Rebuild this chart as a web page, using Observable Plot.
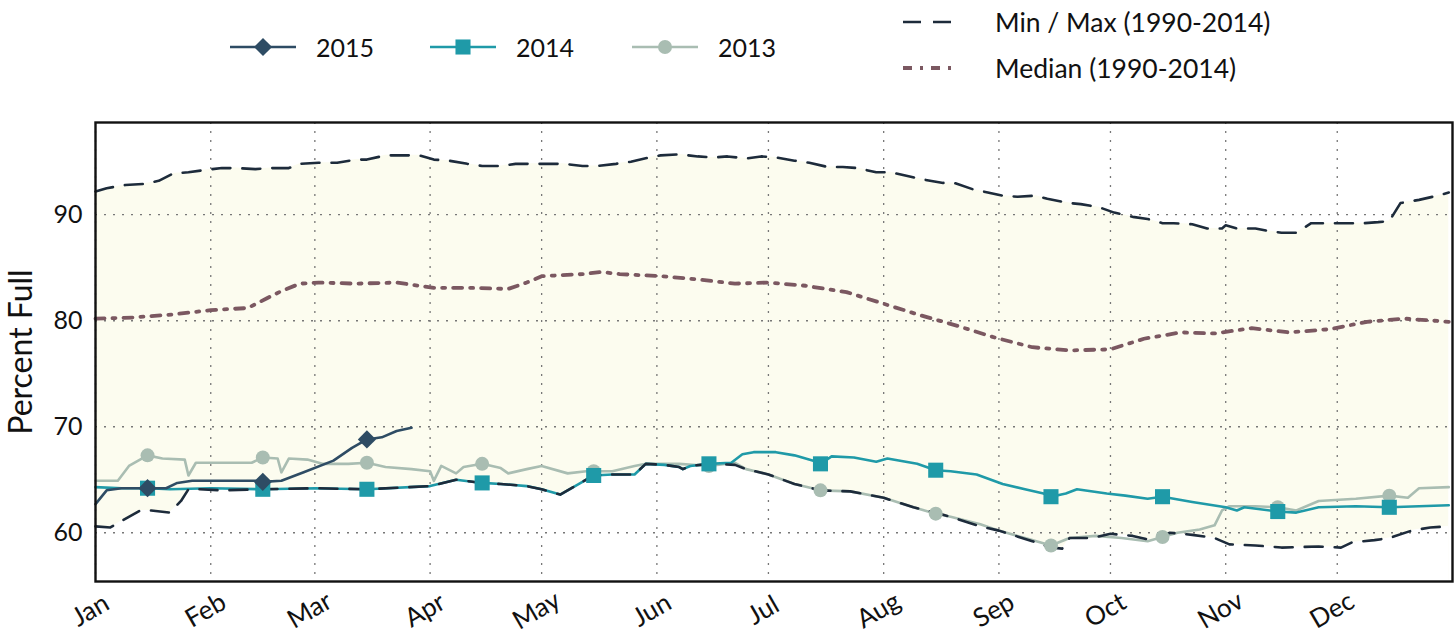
<!DOCTYPE html>
<html><head><meta charset="utf-8">
<script src="https://cdn.jsdelivr.net/npm/d3@7"></script>
<script src="https://cdn.jsdelivr.net/npm/@observablehq/plot@0.6"></script>
<style>
body{margin:0;background:#fff;font-family:Lato,"Open Sans",sans-serif;}
#wrap{position:relative;width:1455px;height:637px;overflow:hidden;}
#legend{position:absolute;left:0;top:0;width:1455px;height:100px;}
#chart{position:absolute;left:0;top:100px;}
.item{position:absolute;display:flex;align-items:center;font-size:25px;color:#111;height:40px;}
.item svg{margin-right:20px;overflow:visible;}
#chart svg [aria-label="y-axis label"] text{font-size:32px;}
</style></head>
<body>
<div id="wrap"><div id="legend"></div><div id="chart"></div></div>
<script>
// ---- data ----
const months = ["Jan","Feb","Mar","Apr","May","Jun","Jul","Aug","Sep","Oct","Nov","Dec"];
const yTicks = [60, 70, 80, 90];

const maxSeries = [["01-01",92.2],["01-04",92.5],["01-09",92.8],["01-14",92.9],["01-18",93.2],["01-22",93.9],["01-26",94.0],["01-30",94.2],
["02-04",94.4],["02-08",94.4],["02-13",94.3],["02-17",94.4],["02-22",94.4],["02-25",94.8],["03-02",94.9],["03-07",94.9],["03-12",95.2],
["03-15",95.2],["03-20",95.6],["03-25",95.6],["03-29",95.6],["04-02",95.2],["04-06",95.1],["04-11",94.8],["04-15",94.6],["04-20",94.6],
["04-24",94.8],["04-27",94.8],["05-03",94.8],["05-07",94.8],["05-12",94.6],["05-16",94.6],["05-21",94.8],["05-25",95.0],["05-30",95.4],
["06-02",95.6],["06-07",95.7],["06-12",95.5],["06-16",95.4],["06-20",95.5],["06-25",95.3],["06-29",95.5],["07-03",95.4],["07-08",95.1],
["07-12",94.9],["07-17",94.5],["07-21",94.5],["07-25",94.4],["07-30",94.0],["08-03",94.0],["08-08",93.6],["08-12",93.3],["08-17",93.0],
["08-20",93.0],["08-25",92.4],["08-29",92.1],["09-02",91.8],["09-06",91.7],["09-11",91.8],["09-14",91.5],["09-20",91.1],["09-23",91.0],
["09-28",90.7],["10-02",90.2],["10-07",89.8],["10-11",89.6],["10-15",89.2],["10-18",89.2],["10-23",89.1],["10-27",88.7],["10-31",88.7],
["11-01",89.0],["11-04",88.7],["11-09",88.7],["11-12",88.5],["11-16",88.3],["11-20",88.3],["11-24",89.2],["11-29",89.2],["12-04",89.2],
["12-08",89.2],["12-12",89.3],["12-15",89.4],["12-18",91.1],["12-23",91.4],["12-28",91.8],["12-31",92.1]];

const medianSeries = [["01-01",80.2],["01-11",80.3],["01-22",80.6],["02-01",81.0],["02-11",81.2],["02-16",82.1],["02-20",82.8],["02-25",83.5],
["03-02",83.6],["03-12",83.5],["03-23",83.6],["04-02",83.1],["04-12",83.1],["04-22",83.0],["04-27",83.6],["05-01",84.2],["05-12",84.4],
["05-17",84.6],["05-22",84.4],["06-02",84.2],["06-12",83.9],["06-22",83.5],["07-01",83.6],["07-11",83.3],["07-22",82.7],["08-01",81.6],
["08-11",80.5],["08-21",79.5],["08-31",78.4],["09-10",77.5],["09-20",77.2],["10-01",77.3],["10-10",78.3],["10-20",78.9],["10-29",78.8],
["11-08",79.3],["11-18",78.9],["11-29",79.2],["12-09",79.9],["12-19",80.2],["12-31",79.9]];

const minSeries = [["01-01",60.6],["01-05",60.5],["01-08",61.1],["01-13",62.1],["01-16",62.1],["01-21",61.9],["01-24",63.0],["01-26",64.1],
["01-29",64.1],["02-04",64.0],["02-15",64.1],["03-01",64.2],["03-15",64.1],["04-01",64.4],["04-08",65.0],["04-15",64.7],["04-20",64.6],
["04-27",64.4],["05-01",64.1],["05-06",63.6],["05-10",64.4],["05-15",65.4],["05-20",65.5],["05-26",65.5],["05-29",66.5],["06-03",66.4],
["06-07",66.2],["06-08",66.0],["06-10",66.3],["06-15",66.5],["06-22",66.4],["06-25",66.0],["07-01",65.5],["07-08",64.6],["07-15",64.0],
["07-23",63.9],["08-01",63.3],["08-09",62.4],["08-15",61.9],["08-19",61.5],["08-27",60.6],["09-01",60.2],["09-10",59.2],["09-15",58.6],
["09-18",58.5],["09-20",59.5],["09-26",59.5],["10-01",59.9],["10-07",59.7],["10-12",59.3],["10-17",60.0],["10-23",59.8],["10-29",59.5],
["11-02",58.9],["11-09",58.8],["11-16",58.6],["11-26",58.7],["12-02",58.6],["12-05",59.1],["12-11",59.3],["12-15",59.5],["12-21",60.2],
["12-26",60.5],["12-31",60.6]];

const series2015 = [["01-01",62.7],["01-04",64.0],["01-08",64.2],["01-15",64.2],["01-20",64.2],["01-23",64.7],["01-27",64.9],["02-13",64.9],
["02-15",64.8],["02-20",64.9],["02-26",65.7],["03-06",66.8],["03-11",68.0],["03-15",68.8],["03-19",69.0],["03-23",69.6],["03-27",69.9]];

const series2014 = [["01-01",64.3],["01-08",64.2],["01-15",64.2],["01-21",64.1],["02-01",64.2],["02-15",64.1],["03-01",64.2],["03-15",64.1],
["04-01",64.4],["04-08",65.0],["04-15",64.7],["04-20",64.6],["04-27",64.4],["05-01",64.1],["05-06",63.6],["05-10",64.4],["05-15",65.4],
["05-20",65.5],["05-26",65.5],["05-29",66.5],["06-03",66.4],["06-07",66.2],["06-08",66.0],["06-10",66.3],["06-15",66.5],["06-21",66.6],
["06-24",67.4],["06-27",67.6],["07-03",67.6],["07-08",67.3],["07-14",66.7],["07-15",66.5],["07-18",67.2],["07-24",67.1],["07-30",66.7],
["08-02",67.0],["08-10",66.5],["08-15",65.9],["08-19",65.8],["08-26",65.5],["09-02",64.6],["09-08",64.1],["09-13",63.7],["09-15",63.4],
["09-19",63.7],["09-22",64.1],["09-30",63.7],["10-05",63.5],["10-11",63.2],["10-15",63.4],["10-23",62.9],["11-01",62.4],["11-04",62.1],
["11-06",62.4],["11-15",62.0],["11-20",61.9],["11-26",62.4],["12-06",62.5],["12-15",62.4],["12-31",62.6]];

const series2013 = [["01-01",64.9],["01-07",64.9],["01-10",66.3],["01-15",67.3],["01-19",67.0],["01-25",66.9],["01-26",65.4],["01-28",66.6],
["02-05",66.6],["02-12",66.6],["02-15",67.1],["02-19",67.0],["02-20",65.7],["02-22",67.0],["02-27",66.9],["03-03",66.5],["03-10",66.5],
["03-15",66.6],["03-20",66.2],["03-27",66.0],["04-01",65.8],["04-02",64.9],["04-04",66.3],["04-08",65.6],["04-10",66.2],["04-15",66.5],
["04-20",66.1],["04-22",65.6],["04-27",66.0],["05-01",66.3],["05-08",65.6],["05-13",65.8],["05-15",65.8],["05-20",65.8],["05-26",66.3],
["05-29",66.5],["06-07",66.5],["06-15",66.3],["06-22",66.6],["06-25",66.0],["07-01",65.5],["07-08",64.6],["07-15",64.0],["07-23",63.9],
["08-01",63.3],["08-09",62.4],["08-15",61.8],["08-19",61.5],["08-27",60.8],["09-01",60.2],["09-09",59.4],["09-15",58.8],["09-20",59.5],
["09-27",59.7],["10-04",59.5],["10-11",59.2],["10-15",59.6],["10-19",60.0],["10-25",60.3],["10-29",60.7],["10-31",62.1],["11-02",62.5],
["11-09",62.5],["11-15",62.4],["11-20",62.1],["11-26",63.0],["12-06",63.2],["12-15",63.5],["12-20",63.3],["12-23",64.2],["12-31",64.3]];

// ---- helpers ----
const YEAR = 2015;
const toRows = arr => arr.map(([md, v]) => {
  const [m, d] = md.split("-").map(Number);
  return {date: new Date(Date.UTC(YEAR, m - 1, d)), value: v, md};
});
const maxRows = toRows(maxSeries), medRows = toRows(medianSeries), minRows = toRows(minSeries);
const r2015 = toRows(series2015), r2014 = toRows(series2014), r2013 = toRows(series2013);
const mids = rows => rows.filter(r => r.md.endsWith("-15"));
const monthStarts = months.map((_, i) => new Date(Date.UTC(YEAR, i, 1)));

const C15 = "#2e4c64", C14 = "#1f9aa8", C13 = "#a9bdb2", CMM = "#1d2b3b", CMED = "#7b5861", FILL = "#fcfcef";
const MMDASH = "18,12", MEDDASH = "9,8,3,8";
const yDomain = [55.4, 98.7];

const chart = Plot.plot({
  width: 1455, height: 537,
  marginLeft: 95, marginRight: 3, marginTop: 22, marginBottom: 56,
  style: {fontFamily: "Lato, 'Open Sans', sans-serif", color: "#111", background: "transparent"},
  x: {type: "utc", domain: [new Date(Date.UTC(YEAR,0,1)), new Date(Date.UTC(YEAR+1,0,1))]},
  y: {domain: yDomain},
  marks: [
    Plot.areaY(maxRows, {x: "date", y1: yDomain[0], y2: "value", fill: FILL}),
    Plot.areaY(minRows, {x: "date", y1: yDomain[0], y2: "value", fill: "#ffffff"}),
    Plot.gridX({ticks: monthStarts, stroke: "#777", strokeOpacity: 1, strokeWidth: 1.3, strokeDasharray: "2,7"}),
    Plot.gridY({ticks: yTicks, stroke: "#777", strokeOpacity: 1, strokeWidth: 1.3, strokeDasharray: "2,7"}),
    Plot.axisY({ticks: yTicks, tickSize: 0, tickPadding: 13, fontSize: 25, label: "Percent Full", labelAnchor: "center", labelArrow: "none", labelOffset: 86}),
    Plot.axisX({ticks: monthStarts, tickFormat: d3.utcFormat("%b"), tickSize: 0, tickRotate: -30, textAnchor: "middle", lineAnchor: "middle", tickPadding: 29, dx: -5, fontSize: 26, label: null}),
    Plot.line(r2013, {x: "date", y: "value", stroke: C13, strokeWidth: 2.6}),
    Plot.line(r2014, {x: "date", y: "value", stroke: C14, strokeWidth: 2.6}),
    Plot.line(maxRows, {x: "date", y: "value", stroke: CMM, strokeWidth: 2.6, strokeDasharray: MMDASH}),
    Plot.line(minRows, {x: "date", y: "value", stroke: CMM, strokeWidth: 2.6, strokeDasharray: MMDASH}),
    Plot.line(medRows, {x: "date", y: "value", stroke: CMED, strokeWidth: 3.8, strokeDasharray: MEDDASH}),
    Plot.line(r2015, {x: "date", y: "value", stroke: C15, strokeWidth: 2.6}),
    Plot.dot(mids(r2013), {x: "date", y: "value", fill: C13, r: 7, symbol: "circle"}),
    Plot.dot(mids(r2014), {x: "date", y: "value", fill: C14, r: 8.5, symbol: "square"}),
    Plot.dot(mids(r2015), {x: "date", y: "value", fill: C15, r: 8.2, symbol: "diamond2"}),
    Plot.frame({stroke: "#111", strokeWidth: 2.4})
  ]
});
document.getElementById("chart").appendChild(chart);

// ---- legend ----
const legendItems = [
  {label: "2015", color: C15, symbol: d3.symbolDiamond2, size: Math.PI*8.2*8.2, left: 230, top: 27, w: 66, fs: 25},
  {label: "2014", color: C14, symbol: d3.symbolSquare, size: Math.PI*8.5*8.5, left: 430, top: 27, w: 66, fs: 25},
  {label: "2013", color: C13, symbol: d3.symbolCircle, size: Math.PI*7*7, left: 632, top: 27, w: 66, fs: 25},
  {label: "Min / Max (1990-2014)", color: CMM, dash: MMDASH, width: 2.6, left: 903, top: 2, w: 74, fs: 26.5},
  {label: "Median (1990-2014)", color: CMED, dash: MEDDASH, width: 3.8, left: 903, top: 48, w: 74, fs: 26.5}
];
const legend = document.getElementById("legend");
for (const it of legendItems) {
  const div = document.createElement("div");
  div.className = "item";
  div.style.left = it.left + "px";
  div.style.top = it.top + "px";
  div.style.fontSize = it.fs + "px";
  let inner = "";
  if (it.symbol) {
    const p = d3.symbol(it.symbol, it.size)();
    inner = `<line x1="0" x2="${it.w}" y1="20" y2="20" stroke="${it.color}" stroke-width="2.6"/><path d="${p}" transform="translate(${it.w/2},20)" fill="${it.color}"/>`;
  } else {
    inner = `<line x1="0" x2="48" y1="20" y2="20" stroke="${it.color}" stroke-width="${it.width}" stroke-dasharray="${it.dash}"/>`;
  }
  div.innerHTML = `<svg width="${it.w}" height="40">${inner}</svg><span>${it.label}</span>`;
  if (!it.symbol) div.querySelector("svg").style.marginRight = "18px";
  legend.appendChild(div);
}
</script>
</body></html>
